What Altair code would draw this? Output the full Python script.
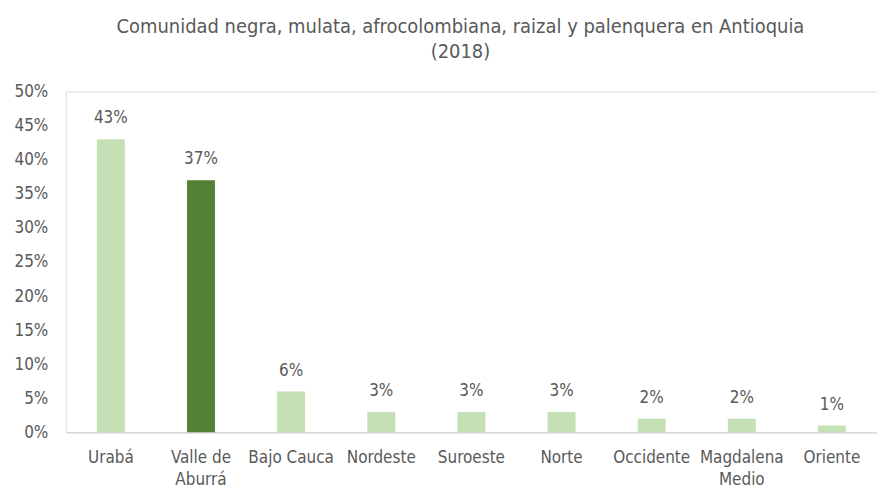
import altair as alt
import pandas as pd

regions = ["Urabá", "Valle de Aburrá", "Bajo Cauca", "Nordeste", "Suroeste",
           "Norte", "Occidente", "Magdalena Medio", "Oriente"]
values = [43, 37, 6, 3, 3, 3, 2, 2, 1]
highlight = [False, True, False, False, False, False, False, False, False]
y_ticks = [0, 5, 10, 15, 20, 25, 30, 35, 40, 45, 50]

df = pd.DataFrame({"region": regions, "value": [v / 100 for v in values],
                   "hl": ["yes" if h else "no" for h in highlight]})

FONT = "Liberation Sans Narrow, DejaVu Sans Condensed, sans-serif"
GRAY = "#595959"

x = alt.X("region:N", sort=regions, title=None,
          scale=alt.Scale(paddingInner=0.69, paddingOuter=0.345),
          axis=alt.Axis(labelAngle=0, labelFont=FONT, labelFontSize=17, labelColor=GRAY,
                        labelPadding=17, ticks=False, domainColor="#D9D9D9", domainWidth=1.5,
                        labelLineHeight=22, labelBaseline="top", labelOverlap=False,
                        labelExpr="datum.label == 'Valle de Aburrá' ? ['Valle de', 'Aburrá'] : datum.label == 'Magdalena Medio' ? ['Magdalena', 'Medio'] : datum.label"))
y = alt.Y("value:Q", title=None,
          scale=alt.Scale(domain=[0, 0.5], nice=False),
          axis=alt.Axis(format=".0%", values=[t / 100 for t in y_ticks], labelOverlap=False,
                        tickCount=11,
                        labelFont=FONT, labelFontSize=17, labelColor=GRAY, labelPadding=18,
                        ticks=False, domain=False, grid=False))

bars = alt.Chart(df).mark_bar().encode(
    x=x, y=y,
    color=alt.Color("hl:N", scale=alt.Scale(domain=["no", "yes"], range=["#C5E0B4", "#548235"]),
                    legend=None),
)
labels = alt.Chart(df).mark_text(dy=-12, baseline="bottom", font=FONT, fontSize=17, color=GRAY).encode(
    x=x, y=y,
    text=alt.Text("value:Q", format=".0%"),
)

chart = (bars + labels).properties(
    width=814, height=342,
    autosize=alt.AutoSizeParams(type="none"),
    padding={"left": 58, "top": 83, "right": 0, "bottom": 60},
    title=alt.TitleParams(["Comunidad negra, mulata, afrocolombiana, raizal y palenquera en Antioquia", "(2018)"],
                          font=FONT, fontSize=20, fontWeight="normal", color=GRAY,
                          anchor="middle", frame="group", dx=-11, offset=21, lineHeight=25),
).configure_view(stroke=None).configure(background="white")

chart.save("out.html", embed_options={"renderer": "svg", "actions": False})
